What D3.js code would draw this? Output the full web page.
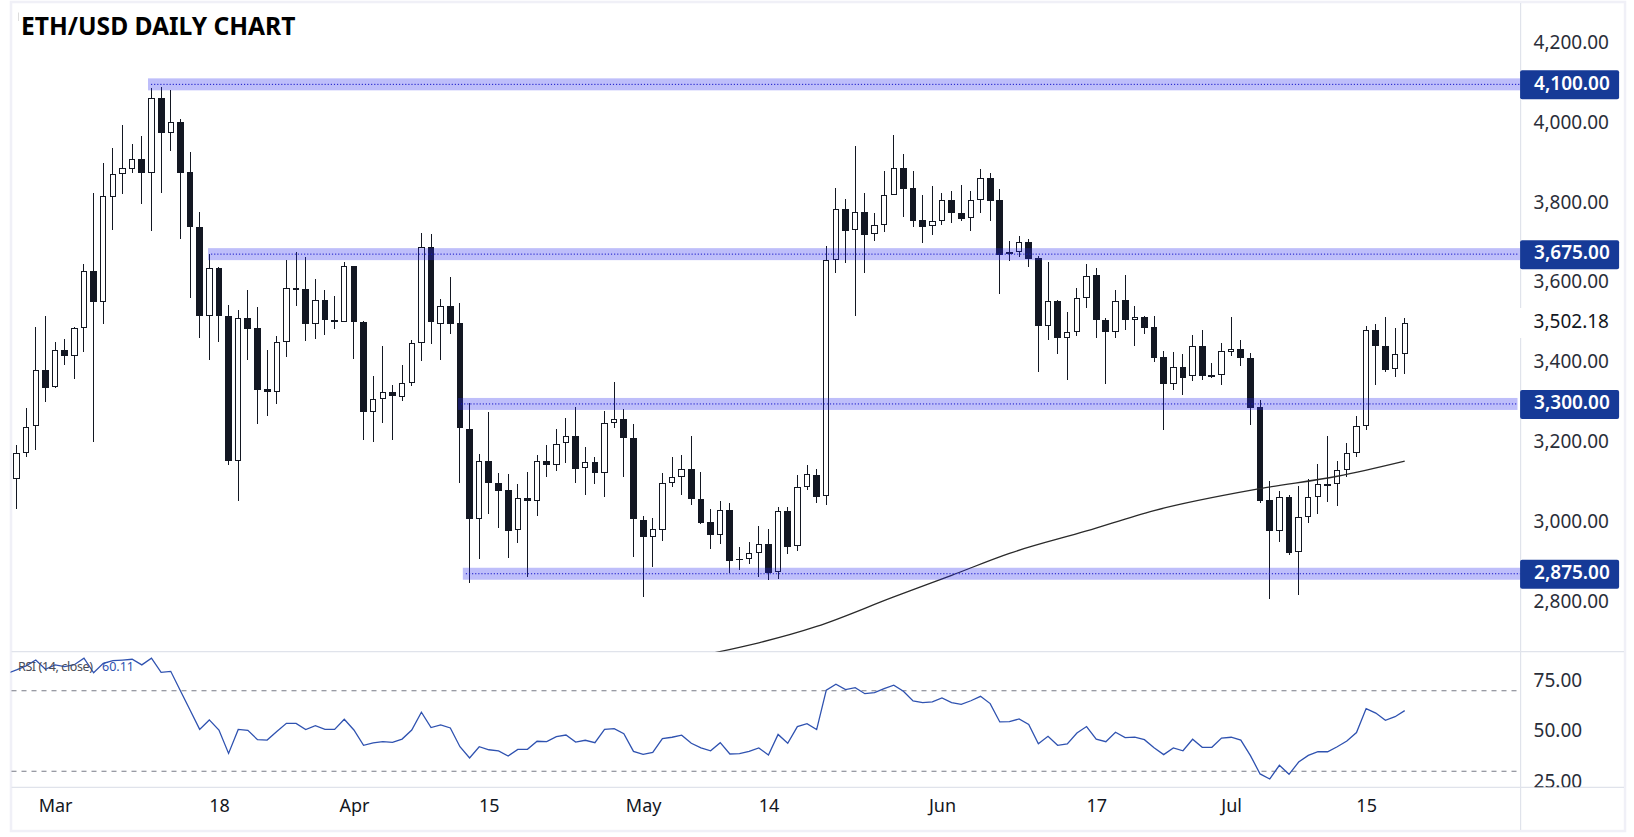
<!DOCTYPE html>
<html>
<head>
<meta charset="utf-8">
<script src="https://cdn.jsdelivr.net/npm/d3@7"></script>
<style>
  body { margin: 0; background: #fff; }
  text { font-family: "Noto Sans", sans-serif; }
</style>
</head>
<body>
<script>
var opens = [3111,3176,3244,3385,3341,3435,3421,3489,3633,3556,3819,3875,3889,3913,3879,4066,3979,4006,3880,3743,3519,3640,3521,3156,3515,3491,3337,3329,3454,3590,3587,3499,3561,3511,3506,3645,3506,3279,3312,3330,3316,3352,3452,3693,3501,3546,3502,3238,3011,3157,3103,3084,2984,3064,3056,3157,3146,3201,3220,3139,3155,3128,3252,3262,3215,3010,2966,2984,3103,3117,3138,3063,3004,2971,3034,2912,2912,2927,2949,2879,3032,2943,3092,3122,3069,3660,3788,3734,3780,3724,3748,3823,3890,3840,3760,3744,3758,3810,3778,3765,3810,3865,3810,3674,3680,3705,3665,3496,3557,3466,3480,3565,3623,3511,3481,3559,3509,3517,3492,3418,3349,3392,3370,3445,3372,3372,3431,3437,3416,3292,3059,2981,3067,2928,3016,3066,3099,3099,3134,3177,3244,3485,3445,3387,3425];
var highs = [3198,3290,3493,3521,3456,3463,3492,3651,3829,3903,3940,3998,3950,3971,4091,4093,4086,4013,3930,3781,3676,3643,3548,3536,3586,3542,3436,3471,3661,3680,3667,3613,3586,3569,3655,3646,3508,3371,3446,3348,3398,3461,3728,3725,3563,3618,3552,3302,3175,3280,3128,3125,3100,3129,3173,3198,3238,3265,3293,3193,3168,3283,3355,3287,3250,3020,3015,3128,3168,3173,3220,3130,3038,3058,3053,2942,2955,2995,2988,3042,3042,3123,3147,3138,3696,3840,3813,3946,3829,3778,3884,3974,3926,3884,3823,3846,3829,3833,3849,3833,3888,3878,3839,3708,3721,3713,3671,3655,3560,3531,3591,3651,3640,3514,3586,3622,3546,3520,3521,3433,3431,3426,3473,3486,3403,3453,3518,3461,3428,3310,3107,3083,3071,3095,3112,3150,3220,3157,3203,3270,3496,3501,3518,3491,3516];
var lows = [3038,3168,3185,3304,3341,3398,3363,3431,3206,3501,3736,3826,3879,3801,3732,3829,3934,3714,3566,3466,3411,3454,3148,3058,3411,3250,3270,3300,3418,3544,3458,3463,3473,3488,3506,3413,3210,3204,3253,3210,3308,3346,3408,3451,3411,3474,3101,2851,2912,3025,2990,2915,2953,2866,3020,3118,3131,3153,3103,3073,3100,3068,3240,3116,2918,2816,2891,2958,3093,3073,3046,3000,2937,2950,2877,2885,2900,2866,2860,2863,2925,2932,3085,3053,3048,3627,3654,3521,3629,3708,3731,3823,3769,3742,3702,3722,3749,3752,3757,3732,3777,3759,3576,3658,3667,3644,3381,3461,3426,3361,3471,3539,3464,3351,3464,3484,3446,3474,3406,3234,3335,3323,3358,3360,3366,3348,3421,3396,3248,3051,2811,2955,2922,2822,3003,3025,3055,3045,3116,3166,3234,3348,3379,3368,3375];
var closes = [3177,3242,3385,3341,3435,3421,3490,3633,3556,3820,3875,3890,3913,3879,4066,3979,4006,3879,3742,3519,3640,3519,3156,3515,3488,3336,3329,3455,3590,3586,3499,3560,3509,3506,3645,3504,3279,3312,3330,3319,3352,3452,3693,3504,3545,3501,3239,3011,3157,3101,3083,2983,3064,3056,3157,3146,3200,3220,3136,3155,3128,3252,3262,3214,3011,2966,2987,3102,3117,3137,3061,3003,2971,3034,2908,2910,2927,2949,2878,3032,2943,3092,3124,3068,3660,3788,3734,3780,3724,3748,3823,3890,3837,3759,3744,3758,3810,3777,3764,3810,3865,3809,3674,3680,3705,3664,3496,3557,3466,3480,3565,3620,3509,3481,3558,3509,3517,3491,3416,3349,3392,3366,3445,3371,3371,3432,3437,3414,3291,3058,2981,3067,2928,3017,3067,3099,3098,3134,3177,3245,3485,3444,3386,3425,3502.18];

var maDays = [71,83,91,97,103,111,118,129,137,144];
var maValues = [2670,2743,2817,2871,2926,2982,3033,3088,3119,3157];

// first point sits one day before the first candle, it gets clipped at the pane edge
var rsiValues = [78.5,80.3,82.3,85.2,80.6,82.8,81.9,82.9,86.1,78.9,83.6,84.9,85.2,85.6,82.8,86.1,79.1,79.6,70.0,60.4,50.8,55.5,50.5,38.9,50.8,50.3,45.7,45.5,49.7,53.8,53.8,50.7,52.6,50.8,50.8,55.8,50.5,42.9,44.1,44.7,44.4,46.0,50.5,59.3,51.7,53.0,51.5,42.2,36.6,42.2,40.7,40.1,37.6,40.9,40.9,44.9,44.7,47.2,48.0,44.5,45.4,44.2,50.8,51.2,48.7,39.9,38.4,39.4,46.2,46.9,47.9,43.9,41.6,40.2,44.2,38.6,38.8,39.9,41.6,38.1,48.3,43.9,52.2,53.6,50.7,70.3,73.2,70.5,71.5,68.5,69.0,71.0,72.7,69.7,64.9,64.1,64.4,66.4,64.1,63.2,65.0,67.2,63.6,54.5,54.6,56.0,53.3,43.7,47.4,42.9,43.6,49.0,52.2,46.0,44.7,49.4,46.7,47.0,45.7,41.7,38.3,41.6,40.2,45.9,41.9,41.9,46.5,46.9,45.5,37.8,28.7,26.2,33.0,28.5,34.6,37.9,39.7,39.7,42.2,45.0,49.2,61.1,58.9,55.3,57.1,60.11];

var levels = [4100,3675,3300,2875];
var levelFrom = [13.64,19.87,45.8,46.3];
var levelTo = [156.4,155.97,155.7,156.1];
var levelHalf = 15;

var priceTicks = [4200,4000,3800,3600,3400,3200,3000,2800];
var lastPrice = 3502.18;
var rsiTicks = [75,50,25];
var rsiBands = [70,30];
var timeDays = [4,21,35,49,65,78,96,112,126,140];
var timeLabels = ["Mar","18","Apr","15","May","14","Jun","17","Jul","15"];

var dark = "#131722";
var width = 1634, height = 837;
var axisX = 1520.6, paneLeft = 11.5, paneTop = 3, splitY = 651.7, paneBottom = 787.3;

var svg = d3.select("body").append("svg")
  .attr("width", width).attr("height", height)
  .style("display", "block");

var x = d3.scaleLinear().domain([0, 144]).range([16.5, 1404.7]);
var y = d3.scaleLinear().domain([2800, 4200]).range([603.7, 44.4]);
var yRsi = d3.scaleLinear().domain([25, 75]).range([781.4, 680.6]);
var fmt = d3.format(",.2f");

var defs = svg.append("defs");
defs.append("clipPath").attr("id", "mainClip").append("rect")
  .attr("x", paneLeft).attr("y", paneTop).attr("width", axisX - paneLeft).attr("height", splitY - paneTop);
defs.append("clipPath").attr("id", "rsiClip").append("rect")
  .attr("x", paneLeft - 1).attr("y", splitY).attr("width", axisX - paneLeft).attr("height", paneBottom - splitY);
defs.append("clipPath").attr("id", "rsiAxisClip").append("rect")
  .attr("x", axisX).attr("y", splitY).attr("width", 100).attr("height", paneBottom - splitY);

// frame and pane separators
svg.append("rect").attr("x", 11).attr("y", 2).attr("width", 1614).attr("height", 829)
  .attr("fill", "none").attr("stroke", "#f0f0f7").attr("stroke-width", 2.5);
svg.append("line").attr("x1", paneLeft).attr("x2", 1624).attr("y1", splitY).attr("y2", splitY)
  .attr("stroke", "#e0e3eb").attr("stroke-width", 1.2);
svg.append("line").attr("x1", paneLeft).attr("x2", 1624).attr("y1", paneBottom).attr("y2", paneBottom)
  .attr("stroke", "#e0e3eb").attr("stroke-width", 1.2);
svg.append("line").attr("x1", axisX).attr("x2", axisX).attr("y1", 3).attr("y2", 830)
  .attr("stroke", "#e0e3eb").attr("stroke-width", 1.2);

// candles
var candles = svg.append("g").attr("clip-path", "url(#mainClip)")
  .attr("shape-rendering", "crispEdges");
var days = d3.range(opens.length);

candles.selectAll("line.wick").data(days).enter().append("line")
  .attr("class", "wick")
  .attr("x1", function(i) { return x(i); })
  .attr("x2", function(i) { return x(i); })
  .attr("y1", function(i) { return y(highs[i]); })
  .attr("y2", function(i) { return y(lows[i]); })
  .attr("stroke", dark).attr("stroke-width", 1);

candles.selectAll("rect.body").data(days).enter().append("rect")
  .attr("class", "body")
  .attr("x", function(i) { return x(i) - (closes[i] >= opens[i] ? 2.7 : 3.4); })
  .attr("width", function(i) { return closes[i] >= opens[i] ? 5.4 : 6.8; })
  .attr("y", function(i) {
    var t = y(Math.max(opens[i], closes[i]));
    return closes[i] >= opens[i] ? t + 0.6 : t;
  })
  .attr("height", function(i) {
    var h = Math.abs(y(opens[i]) - y(closes[i]));
    return closes[i] >= opens[i] ? Math.max(h - 1.2, 1) : Math.max(h, 1.4);
  })
  .attr("fill", function(i) { return closes[i] >= opens[i] ? "#fff" : dark; })
  .attr("stroke", function(i) { return closes[i] >= opens[i] ? dark : "none"; })
  .attr("stroke-width", 1);

// long moving average
var maLine = d3.line()
  .x(function(d, i) { return x(maDays[i]); })
  .y(function(d) { return y(d); })
  .curve(d3.curveMonotoneX);
svg.append("path").datum(maValues)
  .attr("clip-path", "url(#mainClip)")
  .attr("d", maLine)
  .attr("fill", "none").attr("stroke", "#2a2a2a").attr("stroke-width", 1.3);

// support / resistance bands
svg.selectAll("rect.band").data(levels).enter().append("rect")
  .attr("class", "band")
  .attr("x", function(d, i) { return x(levelFrom[i]); })
  .attr("width", function(d, i) { return x(levelTo[i]) - x(levelFrom[i]); })
  .attr("y", function(d) { return y(d + levelHalf); })
  .attr("height", function(d) { return y(d - levelHalf) - y(d + levelHalf); })
  .attr("fill", "rgba(40,40,240,0.3)");
svg.selectAll("line.level").data(levels).enter().append("line")
  .attr("class", "level")
  .attr("x1", function(d, i) { return x(levelFrom[i]) + 3; })
  .attr("x2", function(d, i) { return x(levelTo[i]) - 1; })
  .attr("y1", function(d) { return y(d); })
  .attr("y2", function(d) { return y(d); })
  .attr("stroke", "#1414c8").attr("stroke-width", 1).attr("stroke-dasharray", "1.2 1.9");

// price axis
var priceAxis = svg.append("g")
  .attr("transform", "translate(" + axisX + ",0)")
  .call(d3.axisRight(y).tickValues(priceTicks).tickFormat(fmt).tickSize(0).tickPadding(13));
priceAxis.select(".domain").remove();
priceAxis.selectAll("text")
  .attr("dy", "0.2em")
  .style("font-family", '"Noto Sans", sans-serif')
  .style("font-size", "19px").attr("fill", "#2a2e39");

// last price sits on white, it cuts the axis line
svg.append("rect").attr("x", axisX - 1).attr("y", 308).attr("width", 102).attr("height", 30).attr("fill", "#fff");
svg.append("text")
  .attr("x", axisX + 13).attr("y", y(lastPrice)).attr("dy", "0.27em")
  .attr("font-size", 19).attr("fill", dark)
  .text(fmt(lastPrice));

// level tags
svg.selectAll("rect.tag").data(levels).enter().append("rect")
  .attr("class", "tag")
  .attr("x", axisX - 0.5).attr("width", 99)
  .attr("y", function(d) { return y(d) - 14; })
  .attr("height", 29).attr("rx", 2)
  .attr("fill", "#163a97");
svg.selectAll("text.tag").data(levels).enter().append("text")
  .attr("class", "tag")
  .attr("x", axisX + 13.5)
  .attr("y", function(d) { return y(d); })
  .attr("dy", "0.28em")
  .attr("font-size", 19).attr("font-weight", 600).attr("fill", "#fff")
  .text(function(d) { return fmt(d); });

// RSI pane
svg.selectAll("line.rsiBand").data(rsiBands).enter().append("line")
  .attr("class", "rsiBand")
  .attr("x1", paneLeft).attr("x2", axisX)
  .attr("y1", function(d) { return yRsi(d); })
  .attr("y2", function(d) { return yRsi(d); })
  .attr("stroke", "#787b86").attr("stroke-width", 1.1).attr("stroke-dasharray", "5 5");

var rsiLine = d3.line()
  .x(function(d, i) { return x(i - 1); })
  .y(function(d) { return yRsi(d); });
svg.append("path").datum(rsiValues)
  .attr("clip-path", "url(#rsiClip)")
  .attr("d", rsiLine)
  .attr("fill", "none").attr("stroke", "#2f52b0").attr("stroke-width", 1.3);

var rsiAxis = svg.append("g")
  .attr("clip-path", "url(#rsiAxisClip)")
  .append("g")
  .attr("transform", "translate(" + axisX + ",0)")
  .call(d3.axisRight(yRsi).tickValues(rsiTicks).tickFormat(d3.format(".2f")).tickSize(0).tickPadding(13));
rsiAxis.select(".domain").remove();
rsiAxis.selectAll("text")
  .attr("dy", "0.3em")
  .style("font-family", '"Noto Sans", sans-serif')
  .style("font-size", "19px").attr("fill", "#2a2e39");

svg.append("text").attr("x", 18).attr("y", 670.5)
  .attr("font-size", 12.5).attr("fill", "#4a4d57").attr("textLength", 75)
  .text("RSI (14, close)");
svg.append("text").attr("x", 102).attr("y", 670.5)
  .attr("font-size", 12.5).attr("fill", "#2f52b0")
  .text("60.11");

// time axis
var timeAxis = svg.append("g")
  .attr("transform", "translate(0," + paneBottom + ")")
  .call(d3.axisBottom(x).tickValues(timeDays)
    .tickFormat(function(d, i) { return timeLabels[i]; })
    .tickSize(0).tickPadding(12));
timeAxis.select(".domain").remove();
timeAxis.selectAll("text")
  .style("font-family", '"Noto Sans", sans-serif')
  .style("font-size", "18px").attr("fill", dark);

// title
svg.append("text").attr("x", 21).attr("y", 35)
  .attr("font-size", 24.6).attr("font-weight", 700).attr("fill", "#000")
  .text("ETH/USD DAILY CHART");
svg.append("line").attr("x1", 18.5).attr("x2", 18.5).attr("y1", 12.5).attr("y2", 21)
  .attr("stroke", "#dcdcdc").attr("stroke-width", 1);
</script>
</body>
</html>
